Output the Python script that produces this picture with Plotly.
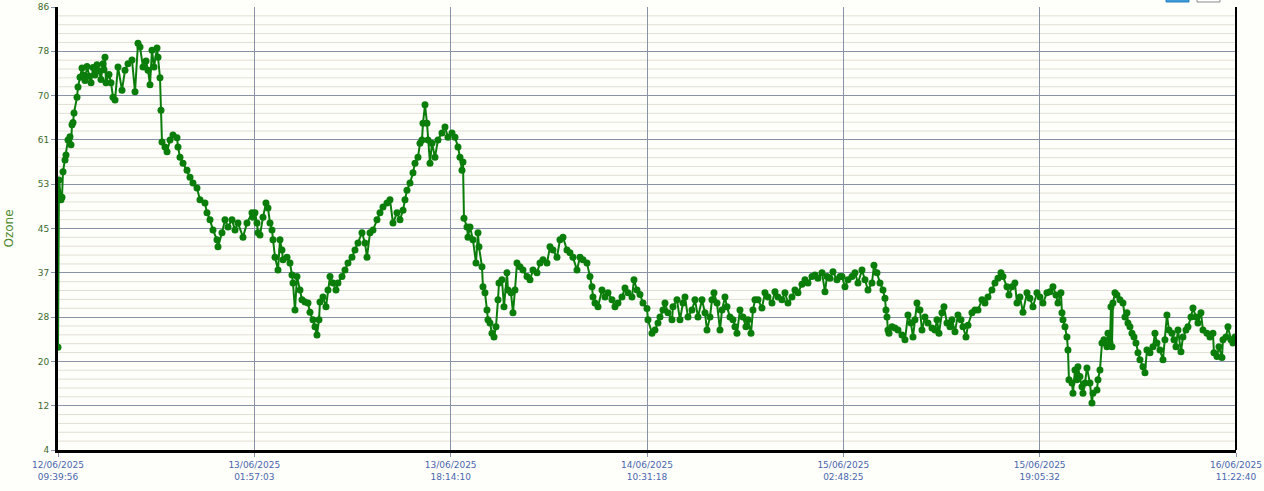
import numpy as np
import pandas as pd
import plotly.graph_objects as go

# ---- time axis (ticks every 16:17:07) ----
START = "2025-06-12 09:39:56"
SAMPLE_SECONDS = 298.6  # ~5-minute logging interval
tick_times = ["2025-06-12 09:39:56", "2025-06-13 01:57:03", "2025-06-13 18:14:10",
              "2025-06-14 10:31:18", "2025-06-15 02:48:25", "2025-06-15 19:05:32",
              "2025-06-16 11:22:40"]
tick_labels = ["12/06/2025<br>09:39:56", "13/06/2025<br>01:57:03", "13/06/2025<br>18:14:10",
               "14/06/2025<br>10:31:18", "15/06/2025<br>02:48:25", "15/06/2025<br>19:05:32",
               "16/06/2025<br>11:22:40"]

y_tickvals = [4, 12.2, 20.4, 28.6, 36.8, 45, 53.2, 61.4, 69.6, 77.8, 86]
y_ticktext = ["4", "12", "20", "28", "37", "45", "53", "61", "70", "78", "86"]
# minor grid: 4 light lines between each pair of major lines
y_minor_vals = [round(4 + 1.64 * k, 2) for k in range(51) if k % 5 != 0]

# ---- ozone samples (sample number, value) ----
idx_a = [0,1,3,4,5,7,8,10,12,13,14,15,16,19,20,22,24,25,27,29,31,33,35,37,39,41,43,45,46,47,
         48,51,53,55,57,60,64,67,70,74,77,80,82,85,88,90,92,94,96,99,100,102,103,104,107,109,
         112,115,119,120,122,125,129,132,135,139,142,147,149,152,155,159,160,164,167,170,174,
         177,180,185,189,194,195]
oz_a = [23,54.0,50.3,50.8,55.5,57.7,58.6,61.4,62,60.5,64.2,64.6,66.4,69.3,71.2,73,74.7,73.4,
        72.4,75,73.2,72,74.8,73.4,75.3,74.2,72.6,75.5,74.4,76.7,72,73.5,72,69.3,68.8,74.9,70.6,
        74.3,75.5,76.2,70.3,79.3,78.6,74.9,76,74.3,71.6,78,74.9,78.4,76.7,72.9,66.9,61,60.1,
        59.2,61.4,62.3,61.8,60.1,58.2,57.1,55.8,54.5,53.4,52.5,50.3,49.7,47.9,46.6,44.7,42.9,
        41.6,44.2,46.6,45.3,46.6,44.7,46,43.4,46,47.9,47.1]

idx_b = [197,199,200,202,205,208,210,212,214,215,217,220,222,224,225,229,232,234,235,237,239,
         242,244,247,250,252,255,257,259,261,262,265,268,270,272,275,278,280,284,287,290,294,
         297,300,304,307,309,312,315,319,322,325,329,332,335,339,342,345,347,349,352,355,357,
         360,362,364,365,367,369,370,372,374,377,380,384,387,390,394]
oz_b = [47.9,46,44.2,43.8,47.1,49.7,48.8,46,44.7,42.9,39.7,37.3,42.9,41,39.2,39.7,38.6,36.4,
        34.9,29.9,36.1,33.6,31.8,31.4,31.2,29.5,28.1,26.8,25.3,28.1,31.4,32.3,30.5,33.6,36.1,
        34.9,33.6,34.9,36.1,37.3,38.6,39.7,41,42.3,44.2,42.3,39.7,44.2,44.7,46.6,47.9,49,49.7,
        50.3,46,47.9,46.6,48.4,50.3,52.1,53.4,55.3,57.1,58.2,60.8,61.4,64.5,67.9,64.5,61.4,
        57.1,60.8,58.2,61.4,62.7,63.8,61.9,62.7]

idx_c = [397,400,402,404,405,406,409,410,412,415,418,420,421,424,425,427,429,430,432,434,436,
         438,440,441,444,446,449,450,453,455,457,459,462,465,469,472,475,479,482,485,489,492,
         495,499,502,505,509,512,515,519,522,525,529,532,534,535,537,540,544,547,550,554,557,
         560,564,567,570,574,576,579,582,585]
oz_c = [61.9,60.1,58.2,55.8,57.3,46.9,45.3,43.4,45.3,42.9,38.6,44.2,41.6,37.9,34.2,33.1,29.9,
        28.1,27.5,25.6,24.9,26.8,31.8,34.9,35.5,30.5,36.8,33.6,33.1,29.4,33.6,38.6,37.9,37.3,
        36.1,35.5,37.3,36.8,38.6,39.2,38.6,41.6,41,39.7,42.9,43.4,41,40.5,39.7,37.3,39.7,39.2,
        38.6,36.1,34.2,32.3,31.2,30.5,33.6,32.3,33.1,31.8,30.5,31.2,32.3,34,33.1,32.3,35.5,
        33.6,32.8,31.2]

idx_d = [589,590,594,597,600,602,605,607,610,614,615,619,622,625,627,630,634,637,640,644,647,
         649,652,654,656,659,662,664,667,669,672,675,677,679,682,685,688,690,693,695,697,700,
         704,707,710,714,717,720,724,727,730,734,737,740,744,747,750,754,757,760,764,767,769,
         772,775,779,782]
oz_d = [30.2,28.1,25.6,26.2,27.5,28.6,29.9,31.2,29.4,28.1,30.5,31.8,28.1,31.2,32.3,28.6,29.9,
        31.8,28.6,31.8,29.4,26.2,28.6,31.8,33.1,31.2,26.2,29.9,32.3,30.5,28.6,28.1,26.8,25.6,
        29.9,28.6,26.8,28.1,25.6,29.9,31.8,31.8,30.3,33.1,32.3,31.2,33.3,32.3,31.8,33.1,31.2,
        32.3,33.6,33.1,34.7,35.5,34.9,36.1,36.4,35.8,36.8,33.3,36.1,35.8,37,35.5,36.1]

idx_e = [784,787,790,794,797,800,804,807,810,814,816,819,822,825,827,828,829,830,831,834,837,
         840,844,847,850,853,855,857,859,862,864,867,870,874,877,879,881,884,886,889,892,894,
         897,900,903,905,908,910,914,917,920,924,927,930,934,937,940,943,945,949,951,954,957,
         959,962,965,969,972,975,979]
oz_e = [36.1,34.2,35.5,36.1,36.8,34.9,37.3,35.5,33.6,34.9,38.2,36.8,34.9,33.6,32.1,29.9,28.6,
        26.2,25.6,26.8,26.6,26.2,25.3,24.4,29,27.5,24.9,28.1,31.2,29.9,26.2,28.6,27.5,26.6,
        26.2,28.1,25.6,29.4,30.5,27.5,26.8,28.1,25.9,29,28.1,26.8,24.9,27.1,29.4,29.9,29.9,
        31.8,31.2,32.3,33.6,34.9,35.8,36.8,36.1,34.2,32.7,34.2,34.9,31.2,32.3,29.5,33.1,32.1,
        30.5,33.1]

idx_f = [982,985,989,992,995,998,1000,1003,1004,1005,1007,1009,1010,1011,1014,1015,1017,1019,
         1020,1022,1024,1025,1027,1029,1032,1034,1035,1039,1040,1042,1044,1046,1049,1050,1052,
         1053,1054,1055,1057,1059,1062,1065,1067,1069,1070,1072,1074,1076,1078,1080,1082,1085,
         1087,1089,1092,1095,1097,1099,1102,1105,1107,1109,1111,1114,1116,1118,1120,1123,1125,
         1128,1130,1133,1135,1138,1140,1143,1145,1149,1152,1155,1156,1159,1161,1164,1165,1168,
         1170,1173,1175,1177,1178]
oz_f = [32.3,31.2,33.1,33.3,34.2,32.7,31.2,33.1,29.4,28.1,26.8,24.9,22.5,17,16.4,14.5,18.8,17,
        19.4,17.6,15.7,14.5,16.4,19.2,16.4,12.7,14.5,15.1,17,18.8,23.8,24.4,23.1,25.6,23.8,30.5,
        23.1,31.2,33.1,32.7,31.8,31.2,28.6,29.4,27.5,26.8,25.6,24.9,23.8,22,20.7,19.4,18.3,22.5,
        22,23.1,25.6,23.8,22.5,20.7,24.4,29,26.2,25.6,24.4,23.1,26.2,22.2,24.9,26.2,26.8,28.6,
        30.3,28.6,27.5,29.4,26.2,25.6,24.9,25.6,22,21.3,23.1,21.1,24.4,24.9,26.8,24.4,23.8,
        24.9,24.2]

sample_idx = idx_a + idx_b + idx_c + idx_d + idx_e + idx_f
ozone = oz_a + oz_b + oz_c + oz_d + oz_e + oz_f
times = pd.to_datetime(START) + pd.to_timedelta(np.array(sample_idx) * SAMPLE_SECONDS, unit="s")

LINE_GREEN = "#0b7d0b"
BG = "#fefefa"
MAJOR = "#8a93a6"
MINOR = "#e2e0d4"

fig = go.Figure()
fig.add_trace(go.Scatter(
    x=times, y=ozone, mode="lines+markers",
    line=dict(color=LINE_GREEN, width=2),
    marker=dict(color=LINE_GREEN, size=7),
    showlegend=False, hoverinfo="x+y"))

shapes = [dict(type="line", xref="paper", yref="y", x0=0, x1=1, y0=v, y1=v,
               line=dict(color=MINOR, width=1), layer="below") for v in y_minor_vals]
shapes += [
    dict(type="line", xref="paper", yref="paper", x0=1, x1=1, y0=0, y1=1,
         line=dict(color="black", width=2)),
    dict(type="rect", xref="paper", yref="paper", x0=0.9406, x1=0.9601, y0=1.0113, y1=1.035,
         fillcolor="#3d9bd8", line=dict(color="#2a7fbf", width=1)),
    dict(type="rect", xref="paper", yref="paper", x0=0.9669, x1=0.9864, y0=1.0113, y1=1.035,
         fillcolor="#ffffff", line=dict(color="#8a8a8a", width=1)),
]

fig.update_layout(
    width=1264, height=491, autosize=False,
    margin=dict(l=58, r=28, t=7, b=41, pad=0),
    paper_bgcolor=BG, plot_bgcolor=BG,
    font=dict(family="DejaVu Sans, Verdana, sans-serif", size=9),
    xaxis=dict(
        type="date", range=[tick_times[0], tick_times[-1]], automargin=False,
        tickmode="array", tickvals=tick_times, ticktext=tick_labels,
        tickfont=dict(color="#4a66ad", size=9),
        showgrid=True, gridcolor=MAJOR, gridwidth=1,
        ticks="outside", ticklen=4, tickcolor=MAJOR,
        showline=True, linecolor="black", linewidth=3,
        zeroline=False),
    yaxis=dict(
        range=[4, 86], automargin=False,
        tickmode="array", tickvals=y_tickvals, ticktext=y_ticktext,
        tickfont=dict(color="#3d6a2c", size=9),
        showgrid=True, gridcolor=MAJOR, gridwidth=1,
        ticks="outside", ticklen=4, tickcolor=MAJOR,
        showline=True, linecolor="black", linewidth=3,
        zeroline=False,
        title=dict(text="Ozone", font=dict(color="#4f8a2e", size=12), standoff=22)),
    shapes=shapes,
)

fig.write_html("out.html", config={"displayModeBar": False},
               post_script="document.body.style.margin='0';")
